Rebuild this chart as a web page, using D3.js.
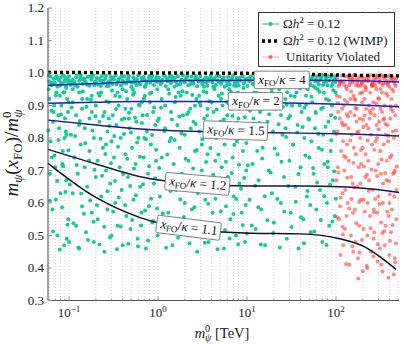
<!DOCTYPE html>
<html lang="en">
<head>
<meta charset="utf-8">
<title>Freeze-out mass ratio</title>
<script src="https://d3js.org/d3.v7.min.js"></script>
<style>
  body { margin: 0; background: #fff; }
  svg, svg text { font-family: "Liberation Serif", "Times New Roman", Times, "DejaVu Serif", serif; }
</style>
</head>
<body>
<script>
// ---- data: [m0 (TeV), m(xFO)/m0] ----
var greenScatter = [
  [0.06,0.92],[0.062,0.79],[0.065,0.58],[0.067,0.88],[0.07,0.71],[0.072,0.94],[0.074,0.5],[0.077,0.83],[0.08,0.63],[0.082,0.9],
  [0.085,0.76],[0.088,0.47],[0.09,0.86],[0.093,0.67],[0.095,0.92],[0.098,0.55],[0.061,0.69],[0.066,0.85],[0.071,0.61],[0.079,0.93],
  [0.084,0.72],[0.089,0.8],[0.094,0.49],[0.097,0.88],[0.064,0.74],[0.059,0.95],[0.068,0.9],[0.076,0.87],[0.086,0.94],[0.092,0.82],[0.099,0.91],
  [0.1,0.48],[0.105,0.81],[0.11,0.91],[0.11,0.63],[0.115,0.74],[0.12,0.87],[0.12,0.53],[0.125,0.69],[0.13,0.94],[0.13,0.46],
  [0.135,0.78],[0.14,0.59],[0.14,0.89],[0.15,0.71],[0.15,0.83],[0.155,0.51],[0.16,0.92],[0.16,0.65],[0.17,0.76],[0.17,0.86],
  [0.18,0.57],[0.18,0.93],[0.19,0.48],[0.19,0.8],[0.2,0.68],[0.2,0.9],[0.21,0.73],[0.21,0.55],[0.22,0.85],[0.23,0.62],
  [0.23,0.94],[0.24,0.77],[0.25,0.45],[0.25,0.88],[0.26,0.7],[0.27,0.82],[0.27,0.58],[0.28,0.91],[0.29,0.66],[0.3,0.79],
  [0.3,0.5],[0.31,0.87],[0.32,0.74],[0.33,0.93],[0.33,0.6],[0.34,0.84],[0.35,0.53],[0.36,0.9],[0.37,0.71],[0.38,0.8],
  [0.39,0.64],[0.4,0.95],[0.4,0.47],[0.42,0.86],[0.43,0.75],[0.44,0.56],[0.45,0.92],[0.46,0.68],[0.48,0.83],[0.49,0.52],
  [0.5,0.89],[0.51,0.77],[0.53,0.61],[0.54,0.94],[0.56,0.72],[0.57,0.85],[0.59,0.49],[0.6,0.8],[0.62,0.9],[0.63,0.65],
  [0.65,0.57],[0.67,0.87],[0.69,0.74],[0.71,0.93],[0.73,0.46],[0.75,0.82],[0.77,0.69],[0.79,0.59],[0.81,0.91],[0.83,0.78],
  [0.86,0.54],[0.88,0.88],[0.9,0.66],[0.93,0.84],[0.95,0.73],[0.98,0.95],[0.99,0.5],
  [0.11,0.95],[0.14,0.92],[0.18,0.88],[0.22,0.93],[0.28,0.86],[0.35,0.94],[0.43,0.89],[0.52,0.95],[0.66,0.91],[0.84,0.94],
  [0.13,0.84],[0.26,0.78],[0.47,0.86],[0.7,0.8],
  [1.02,0.86],[1.05,0.62],[1.1,0.92],[1.1,0.74],[1.15,0.51],[1.2,0.83],[1.25,0.68],[1.3,0.95],[1.3,0.57],[1.35,0.79],
  [1.4,0.88],[1.45,0.47],[1.5,0.72],[1.55,0.91],[1.6,0.64],[1.65,0.84],[1.7,0.55],[1.75,0.77],[1.8,0.93],[1.85,0.69],
  [1.9,0.87],[2.0,0.6],[2.0,0.81],[2.1,0.94],[2.15,0.5],[2.2,0.73],[2.3,0.89],[2.35,0.66],[2.4,0.58],[2.5,0.85],
  [2.6,0.76],[2.7,0.92],[2.75,0.45],[2.8,0.63],[2.9,0.82],[3.0,0.9],[3.1,0.7],[3.2,0.53],[3.3,0.86],[3.4,0.61],
  [3.5,0.94],[3.6,0.75],[3.7,0.48],[3.8,0.83],[3.9,0.67],[4.0,0.91],[4.1,0.57],[4.2,0.88],[4.4,0.73],[4.5,0.8],
  [4.6,0.52],[4.8,0.93],[4.9,0.64],[5.0,0.85],[5.2,0.71],[5.3,0.9],[5.5,0.46],[5.6,0.78],[5.8,0.59],[6.0,0.87],
  [6.1,0.68],[6.3,0.95],[6.5,0.55],[6.7,0.82],[6.9,0.74],[7.1,0.62],[7.3,0.9],[7.5,0.5],[7.7,0.79],[8.0,0.86],
  [8.2,0.66],[8.5,0.93],[8.7,0.57],[9.0,0.76],[9.2,0.84],[9.5,0.48],[9.8,0.7],[9.9,0.92],
  [1.2,0.9],[1.7,0.94],[2.2,0.88],[2.9,0.93],[3.6,0.89],[4.3,0.95],[5.1,0.92],[6.6,0.89],[7.9,0.94],[9.3,0.9],
  [1.4,0.8],[3.1,0.78],[5.7,0.83],[8.4,0.8],
  [10.3,0.83],[10.7,0.61],[11,0.9],[11.5,0.72],[12,0.94],[12.5,0.52],[13,0.8],[13.5,0.67],[14,0.88],[14.5,0.58],
  [15,0.77],[15.5,0.93],[16,0.47],[17,0.85],[17.5,0.7],[18,0.91],[19,0.63],[19.5,0.82],[20,0.54],[21,0.89],
  [22,0.75],[23,0.95],[24,0.6],[25,0.81],[26,0.68],[27,0.92],[28,0.49],[29,0.86],[30,0.73],[31,0.57],
  [32,0.9],[33,0.78],[35,0.65],[36,0.94],[37,0.84],[38,0.46],[40,0.71],[41,0.88],[43,0.55],[44,0.8],
  [46,0.93],[47,0.62],[49,0.86],[50,0.74],[52,0.51],[54,0.91],[56,0.69],[58,0.83],[60,0.58],[62,0.95],
  [64,0.77],[66,0.64],[68,0.89],[70,0.48],[72,0.81],[74,0.72],[77,0.92],[79,0.6],[82,0.85],[84,0.53],
  [87,0.76],[90,0.9],[92,0.67],[95,0.82],[97,0.56],[99,0.94],
  [11.8,0.86],[15,0.89],[19,0.94],[24,0.87],[31,0.93],[39,0.9],[48,0.95],[59,0.88],[73,0.94],[88,0.87],
  [13,0.76],[27,0.83],[53,0.79],[81,0.71]
];

var greenScatter2 = [
  [0.0585,0.823],[0.061,0.607],[0.0635,0.884],[0.066,0.512],[0.0685,0.746],[0.071,0.931],[0.0735,0.668],[0.076,0.794],[0.0785,0.457],[0.081,0.872],
  [0.0835,0.587],[0.086,0.713],[0.0885,0.941],[0.091,0.634],[0.0935,0.809],[0.096,0.533],[0.0985,0.762],
  [0.102,0.657],[0.107,0.894],[0.112,0.538],[0.117,0.806],[0.122,0.717],[0.127,0.463],[0.132,0.852],[0.137,0.629],[0.143,0.943],[0.147,0.567],
  [0.152,0.784],[0.157,0.896],[0.163,0.486],[0.168,0.731],[0.173,0.608],[0.176,0.918],[0.183,0.823],[0.188,0.542],[0.193,0.702],[0.198,0.867],
  [0.206,0.593],[0.214,0.938],[0.219,0.472],[0.226,0.798],[0.235,0.684],[0.241,0.868],[0.248,0.527],[0.256,0.751],[0.263,0.913],[0.271,0.636],
  [0.283,0.837],[0.288,0.494],[0.296,0.722],[0.304,0.946],[0.313,0.574],[0.322,0.806],[0.328,0.668],[0.337,0.889],[0.345,0.458],[0.355,0.773],
  [0.362,0.617],[0.372,0.927],[0.381,0.528],[0.392,0.857],[0.405,0.689],[0.415,0.812],[0.427,0.593],[0.437,0.944],[0.451,0.736],[0.463,0.475],
  [0.472,0.878],[0.486,0.652],[0.497,0.817],[0.512,0.548],[0.524,0.933],[0.537,0.706],[0.552,0.862],[0.565,0.624],[0.581,0.786],[0.596,0.467],
  [0.611,0.903],[0.627,0.742],[0.643,0.531],[0.659,0.846],[0.677,0.658],[0.695,0.921],[0.714,0.577],[0.733,0.796],[0.752,0.871],[0.772,0.485],
  [0.792,0.713],[0.813,0.937],[0.835,0.613],[0.857,0.809],[0.881,0.545],[0.904,0.894],[0.928,0.676],[0.952,0.764],[0.976,0.583],[0.992,0.853],
  [1.03,0.708],[1.08,0.893],[1.13,0.568],[1.18,0.821],[1.23,0.462],[1.27,0.749],[1.33,0.936],[1.38,0.637],[1.43,0.857],[1.48,0.537],
  [1.54,0.794],[1.58,0.926],[1.63,0.683],[1.68,0.493],[1.73,0.866],[1.78,0.611],[1.83,0.814],[1.88,0.944],[1.95,0.557],[2.04,0.736],
  [2.12,0.873],[2.18,0.648],[2.26,0.476],[2.33,0.829],[2.42,0.932],[2.48,0.706],[2.56,0.587],[2.66,0.843],[2.73,0.763],[2.83,0.522],
  [2.94,0.908],[3.04,0.657],[3.15,0.796],[3.25,0.944],[3.36,0.478],[3.46,0.726],[3.57,0.869],[3.66,0.598],[3.77,0.913],[3.87,0.769],
  [3.97,0.538],[4.07,0.842],[4.17,0.687],[4.3,0.957],[4.42,0.613],[4.55,0.888],[4.66,0.458],[4.77,0.749],[4.95,0.821],[5.07,0.574],
  [5.22,0.937],[5.38,0.662],[5.5,0.857],[5.65,0.517],[5.78,0.727],[5.93,0.911],[6.06,0.636],[6.22,0.804],[6.38,0.491],[6.55,0.943],
  [6.73,0.692],[6.86,0.868],[7.02,0.566],[7.2,0.779],[7.38,0.928],[7.56,0.612],[7.78,0.847],[7.95,0.473],[8.12,0.718],[8.33,0.891],
  [8.56,0.644],[8.78,0.811],[8.94,0.532],[9.11,0.954],[9.3,0.677],[9.47,0.864],[9.63,0.594],[9.82,0.785],[9.95,0.506],[1.52,0.976],
  [10.2,0.716],[10.8,0.884],[11.3,0.531],[11.9,0.805],[12.3,0.653],[12.9,0.939],[13.4,0.587],[13.8,0.846],[14.3,0.472],[14.8,0.737],
  [15.4,0.913],[15.8,0.621],[16.4,0.818],[16.9,0.547],[17.7,0.873],[18.4,0.694],[18.9,0.951],[19.7,0.508],[20.4,0.768],[21.2,0.918],
  [21.9,0.612],[22.6,0.842],[23.4,0.463],[24.4,0.727],[25.3,0.896],[26.2,0.574],[27.5,0.803],[28.2,0.941],[29.1,0.652],[30.4,0.868],
  [31.6,0.526],[32.8,0.779],[34.3,0.928],[35.3,0.604],[36.7,0.817],[37.8,0.689],[39.4,0.952],[40.4,0.556],[42.1,0.834],[43.6,0.476],
  [45.2,0.746],[46.2,0.903],[47.8,0.637],[49.6,0.857],[51.3,0.594],[53.1,0.927],[55.2,0.708],[57.1,0.512],[59.3,0.877],[61.4,0.663],
  [63.3,0.812],[65.2,0.942],[67.4,0.548],[69.4,0.764],[71.3,0.893],[73.8,0.621],[76.2,0.835],[78.3,0.471],[80.7,0.727],[83.1,0.916],
  [85.6,0.657],[88.3,0.793],[90.8,0.543],[93.2,0.947],[95.4,0.698],[97.8,0.862],[99.5,0.613],[58.2,0.955],[34.8,0.962],[17.2,0.958],
  [7.6,0.96],[3.3,0.958],[0.71,0.957],[0.28,0.961],[0.093,0.955],[44.1,0.893],[27.9,0.902],[11.6,0.897],[6.2,0.906],[2.6,0.899]
];

var greenBand = [
  [0.06,0.975],[0.062,0.989],[0.064,0.962],[0.067,0.982],[0.069,0.97],[0.072,0.991],[0.074,0.958],[0.077,0.978],[0.08,0.986],[0.083,0.966],
  [0.086,0.993],[0.089,0.974],[0.092,0.96],[0.095,0.984],[0.098,0.97],[0.1,0.99],[0.105,0.963],[0.11,0.98],[0.115,0.972],[0.12,0.987],
  [0.125,0.958],[0.13,0.976],[0.136,0.992],[0.142,0.967],[0.148,0.983],[0.155,0.97],[0.162,0.988],[0.17,0.961],[0.178,0.979],[0.186,0.993],
  [0.195,0.973],[0.204,0.985],[0.213,0.964],[0.223,0.977],[0.233,0.99],[0.244,0.969],[0.255,0.982],[0.267,0.959],[0.279,0.975],[0.292,0.988],
  [0.305,0.966],[0.319,0.98],[0.334,0.992],[0.35,0.971],[0.366,0.984],[0.383,0.962],[0.4,0.978],[0.42,0.99],[0.44,0.968],[0.46,0.983],
  [0.48,0.974],[0.5,0.958],[0.53,0.987],[0.55,0.97],[0.58,0.981],[0.6,0.993],[0.63,0.965],[0.66,0.977],[0.69,0.988],[0.72,0.96],
  [0.75,0.975],[0.79,0.985],[0.82,0.97],[0.86,0.991],[0.9,0.963],[0.94,0.98],[0.98,0.972],
  [1.02,0.986],[1.07,0.966],[1.12,0.979],[1.17,0.992],[1.22,0.96],[1.28,0.975],[1.34,0.988],[1.4,0.969],[1.46,0.982],[1.53,0.958],
  [1.6,0.973],[1.67,0.99],[1.75,0.965],[1.83,0.98],[1.91,0.993],[2.0,0.971],[2.09,0.985],[2.19,0.962],[2.29,0.977],[2.39,0.989],
  [2.5,0.968],[2.62,0.983],[2.74,0.959],[2.86,0.974],[3.0,0.991],[3.13,0.966],[3.27,0.979],[3.42,0.987],[3.58,0.961],[3.74,0.976],
  [3.91,0.992],[4.09,0.97],[4.28,0.984],[4.47,0.963],[4.68,0.978],[4.9,0.99],[5.12,0.967],[5.35,0.981],[5.6,0.958],[5.86,0.974],
  [6.12,0.988],[6.4,0.965],[6.7,0.979],[7.0,0.993],[7.3,0.971],[7.65,0.985],[8.0,0.962],[8.4,0.976],[8.8,0.989],[9.2,0.968],[9.6,0.982],
  [10.1,0.96],[10.6,0.975],[11.1,0.99],[11.6,0.967],[12.1,0.983],[12.7,0.958],[13.3,0.973],[13.9,0.988],[14.5,0.964],[15.2,0.979],
  [15.9,0.992],[16.6,0.97],[17.4,0.984],[18.2,0.961],[19,0.977],[19.9,0.989],[20.8,0.966],[21.8,0.981],[22.8,0.958],[23.8,0.974],
  [24.9,0.99],[26,0.963],[27.2,0.978],[28.5,0.987],[29.8,0.969],[31.2,0.982],[32.6,0.96],[34.1,0.975],[35.7,0.991],[37.3,0.966],
  [39,0.98],[40.8,0.972],[42.7,0.986],[44.7,0.961],[46.7,0.977],[48.9,0.992],[51.1,0.968],[53.5,0.983],[56,0.959],[58.5,0.974],
  [61.2,0.989],[64,0.965],[67,0.979],[70,0.993],[73.3,0.97],[76.7,0.984],[80.2,0.962],[83.9,0.977],[87.8,0.988],[91.8,0.967],[96,0.981],[99,0.972],
  [0.063,0.97],[0.071,0.984],[0.079,0.961],[0.088,0.989],[0.097,0.979],[0.108,0.969],[0.122,0.993],[0.139,0.981],[0.159,0.964],[0.18,0.986],
  [0.2,0.975],[0.228,0.96],[0.26,0.992],[0.297,0.978],[0.34,0.965],[0.39,0.989],[0.45,0.979],[0.51,0.97],[0.57,0.963],[0.65,0.984],
  [0.74,0.968],[0.84,0.98],[0.96,0.988],[1.1,0.97],[1.25,0.983],[1.43,0.99],[1.63,0.963],[1.87,0.977],[2.14,0.99],[2.45,0.975],
  [2.8,0.983],[3.2,0.969],[3.65,0.984],[4.18,0.958],[4.8,0.972],[5.48,0.987],[6.25,0.975],[7.15,0.961],[8.2,0.985],[9.4,0.975],
  [10.9,0.979],[12.4,0.97],[14.2,0.98],[16.2,0.962],[18.6,0.986],[21.3,0.973],[24.3,0.982],[27.8,0.963],[31.8,0.988],[36.4,0.978],
  [41.7,0.966],[47.7,0.98],[54.6,0.99],[62.5,0.974],[71.5,0.963],[81.8,0.99],[93.6,0.976],
  [0.0595,0.992],[0.0655,0.967],[0.0735,0.986],[0.0815,0.97],[0.0905,0.981],[0.103,0.975],[0.117,0.961],[0.133,0.985],[0.151,0.976],[0.172,0.99],
  [0.192,0.962],[0.216,0.983],[0.241,0.976],[0.272,0.966],[0.312,0.986],[0.356,0.977],[0.41,0.969],[0.47,0.991],[0.54,0.977],[0.615,0.969],
  [0.7,0.98],[0.8,0.991],[0.91,0.976],[1.05,0.976],[1.2,0.991],[1.37,0.977],[1.56,0.986],[1.79,0.97],[2.04,0.982],[2.33,0.966],
  [2.67,0.991],[3.05,0.977],[3.48,0.97],[3.98,0.982],[4.55,0.991],[5.2,0.975],[5.95,0.963],[6.8,0.986],[7.8,0.97],[8.95,0.991],
  [10.4,0.984],[11.9,0.964],[13.6,0.992],[15.6,0.975],[17.8,0.967],[20.3,0.983],[23.2,0.991],[26.6,0.971],[30.4,0.962],[34.8,0.984],
  [39.8,0.99],[45.5,0.973],[52,0.962],[59.5,0.98],[68,0.986],[77.8,0.975],[89,0.96],[97.5,0.99]
];

var redPoints = [
  [102,0.93],[105,0.71],[108,0.55],[110,0.86],[112,0.44],[115,0.97],[118,0.63],[120,0.79],[123,0.9],[126,0.52],
  [129,0.74],[132,0.95],[135,0.6],[138,0.83],[141,0.41],[145,0.88],[148,0.68],[151,0.99],[155,0.57],[159,0.77],
  [162,0.92],[166,0.48],[170,0.85],[174,0.65],[178,0.96],[182,0.53],[187,0.8],[191,0.72],[196,0.91],[200,0.39],
  [205,0.61],[210,0.87],[215,0.75],[220,0.98],[225,0.5],[231,0.83],[236,0.67],[242,0.94],[248,0.45],[254,0.78],
  [260,0.89],[266,0.58],[272,0.97],[279,0.7],[285,0.84],[292,0.42],[299,0.62],[306,0.92],[314,0.76],[321,0.54],
  [329,0.88],[337,0.66],[345,0.99],[353,0.47],[361,0.81],[370,0.73],[379,0.93],[388,0.37],[397,0.6],[407,0.86],
  [416,0.51],[426,0.95],[437,0.69],[447,0.8],[458,0.43],[469,0.9],[478,0.64],
  [101,0.67],[104,0.82],[107,0.96],[111,0.59],[114,0.76],[117,0.89],[121,0.47],[124,0.7],[128,0.84],[131,0.56],
  [134,0.91],[139,0.73],[143,0.98],[147,0.5],[150,0.81],[154,0.66],[158,0.93],[163,0.58],[167,0.75],[171,0.89],
  [176,0.43],[180,0.71],[185,0.86],[190,0.61],[194,0.97],[199,0.77],[204,0.52],[209,0.92],[214,0.68],[219,0.84],
  [224,0.4],[230,0.73],[235,0.9],[241,0.56],[247,0.81],[253,0.96],[259,0.64],[265,0.49],[271,0.87],[278,0.79],
  [284,0.95],[291,0.57],[298,0.72],[305,0.85],[312,0.46],[320,0.69],[328,0.94],[336,0.6],[344,0.78],[352,0.9],
  [360,0.53],[369,0.67],[378,0.84],[387,0.97],[396,0.44],[405,0.74],[415,0.89],[425,0.58],[435,0.82],[446,0.38],
  [457,0.7],[467,0.96],[476,0.55],
  [103,0.985],[109,0.965],[116,0.992],[122,0.975],[130,0.958],[137,0.988],[144,0.97],[152,0.982],[160,0.995],[168,0.962],
  [177,0.978],[186,0.99],[195,0.968],[206,0.985],[217,0.955],[228,0.975],[240,0.993],[252,0.966],[264,0.98],[277,0.96],
  [290,0.988],[303,0.972],[318,0.995],[333,0.963],[348,0.982],[364,0.97],[381,0.99],[398,0.958],[416,0.978],[436,0.987],
  [455,0.966],[474,0.983],[113,0.975],[126,0.99],[141,0.962],[157,0.978],[173,0.97],[191,0.985],[211,0.96],[234,0.98],
  [258,0.972],[284,0.993],[312,0.98],[341,0.968],[373,0.977],[407,0.992],[445,0.974],
  [106,0.88],[119,0.84],[133,0.78],[146,0.92],[161,0.87],[179,0.82],[197,0.94],[218,0.89],[238,0.86],[262,0.91],
  [288,0.8],[316,0.89],[348,0.86],[383,0.79],[421,0.92],[463,0.87],[127,0.64],[156,0.45],[188,0.66],[226,0.6],
  [269,0.51],[323,0.41],[390,0.56],[452,0.62],
  [100.5,0.812],[103.5,0.556],[106.5,0.694],[109.5,0.927],[112.5,0.617],[116.5,0.848],[119.5,0.503],[122.5,0.745],[125.5,0.917],[129.5,0.412],
  [133.5,0.678],[136.5,0.866],[140.5,0.583],[144.5,0.792],[148.5,0.943],[152.5,0.467],[156.5,0.724],[160.5,0.648],[164.5,0.892],[168.5,0.538],
  [172.5,0.817],[177.5,0.368],[181.5,0.603],[186.5,0.938],[191.5,0.763],[195.5,0.486],[201,0.856],[206,0.712],[211,0.574],[216,0.948],
  [221,0.407],[227,0.792],[233,0.638],[239,0.884],[245,0.522],[251,0.703],[257,0.963],[263,0.436],[269,0.764],[275,0.612],
  [282,0.907],[289,0.683],[295,0.473],[302,0.827],[309,0.597],[317,0.951],[325,0.734],[332,0.389],[340,0.856],[349,0.513],
  [357,0.692],[366,0.938],[375,0.573],[385,0.807],[394,0.667],[403,0.484],[412,0.898],[422,0.747],[432,0.532],[442,0.943],
  [452,0.694],[462,0.418],[472,0.823],[480,0.712],[110,0.972],[124,0.964],[139,0.991],[154,0.97],[171,0.984],[189,0.961],
  [209,0.976],[231,0.99],[255,0.962],[281,0.982],[310,0.971],[343,0.989],[378,0.964],[418,0.983],[460,0.978],[105,0.908],
  [132,0.873],[165,0.917],[203,0.834],[246,0.876],[298,0.922],[357,0.843],[433,0.882],[118,0.527],[149,0.612],[184,0.448],
  [222,0.687],[267,0.571],[331,0.508],[402,0.627],[471,0.476]
];

var wimpLine = [[0.058,1.002],[1,1.0],[10,0.999],[100,0.994],[510,0.991]];

var curveK4  = [[0.058,0.962],[0.2,0.968],[0.63,0.974],[3,0.977],[11,0.978],[40,0.978],[110,0.977],[250,0.975],[510,0.972]];
var curveK2  = [[0.058,0.907],[0.2,0.91],[0.63,0.912],[3,0.912],[11,0.91],[40,0.907],[110,0.904],[250,0.9],[510,0.896]];
var curveK15 = [[0.058,0.855],[0.2,0.84],[0.63,0.828],[3,0.82],[11,0.817],[40,0.815],[110,0.813],[250,0.81],[510,0.806]];
var curveK12 = [[0.058,0.765],[0.2,0.72],[0.63,0.681],[2.3,0.66],[11,0.652],[40,0.652],[110,0.65],[250,0.643],[510,0.632]];
var curveK11 = [[0.058,0.722],[0.2,0.617],[0.63,0.555],[2.3,0.52],[11,0.507],[40,0.505],[110,0.49],[210,0.465],[310,0.435],[470,0.396]];

var kappaLabels = ["4", "2", "1.5", "1.2", "1.1"];
var yTicks = [0.3, 0.4, 0.5, 0.6, 0.7, 0.8, 0.9, 1.0, 1.1, 1.2];
var xDecades = [-1, 0, 1, 2];

// ---- chart ----
var width = 404, height = 344;
var svg = d3.select("body").append("svg")
  .attr("width", width)
  .attr("height", height)
  .style("display", "block");

var x = d3.scaleLog().domain([0.058, 510]).range([48, 399]);
var y = d3.scaleLinear().domain([0.3, 1.2]).range([300.5, 8]);

// vertical dotted grid at every major / minor tick
var gridVals = [];
[-2, -1, 0, 1, 2].forEach(function(e) {
  for (var k = 1; k < 10; k++) {
    var v = k * Math.pow(10, e);
    if (v >= 0.058 && v <= 510) gridVals.push(v);
  }
});
svg.append("g").selectAll("line")
  .data(gridVals)
  .enter().append("line")
  .attr("x1", d => x(d)).attr("x2", d => x(d))
  .attr("y1", y(1.2)).attr("y2", y(0.3))
  .attr("stroke", "#c4c4c4")
  .attr("stroke-width", 0.8)
  .attr("stroke-dasharray", "1,2");

// scatter
var green = "#16ca98";
var pts = svg.append("g");
pts.selectAll("circle.g")
  .data(greenScatter.concat(greenScatter2, greenBand))
  .enter().append("circle")
  .attr("class", "g")
  .attr("cx", d => x(d[0])).attr("cy", d => y(d[1]))
  .attr("r", 2)
  .attr("fill", green);
pts.selectAll("circle.r")
  .data(redPoints)
  .enter().append("circle")
  .attr("class", "r")
  .attr("cx", d => x(d[0])).attr("cy", d => y(d[1]))
  .attr("r", 2)
  .attr("fill", "#ff2a2a")
  .attr("fill-opacity", 0.55);

var line = d3.line()
  .x(d => x(d[0])).y(d => y(d[1]))
  .curve(d3.curveMonotoneX);

// WIMP line
svg.append("path")
  .attr("d", line(wimpLine))
  .attr("fill", "none")
  .attr("stroke", "#000")
  .attr("stroke-width", 3.4)
  .attr("stroke-dasharray", "3,3");

// contour curves
var curves = [curveK4, curveK2, curveK15, curveK12, curveK11];
var curveColors = ["#1a1ad6", "#1c1cc0", "#1c1c88", "#15154f", "#0d0d22"];
curves.forEach(function(c, i) {
  svg.append("path")
    .attr("d", line(c))
    .attr("fill", "none")
    .attr("stroke", curveColors[i])
    .attr("stroke-width", 1.5);
});

// contour labels (centre in data coords, tilt in degrees)
var labelPlace = [[24.7, 0.978, 0], [12.6, 0.912, 0], [7.5, 0.822, 2], [2.8, 0.658, 5], [2.23, 0.523, 7]];
kappaLabels.forEach(function(k, i) {
  var p = labelPlace[i];
  var g = svg.append("g")
    .attr("transform", "translate(" + x(p[0]) + "," + y(p[1]) + ") rotate(" + p[2] + ")");
  var t = g.append("text")
    .attr("text-anchor", "middle")
    .attr("y", 3.5)
    .attr("font-size", 13)
    .attr("fill", "#111");
  t.append("tspan").attr("font-style", "italic").text("x");
  t.append("tspan").attr("font-size", 9).attr("dy", 2.5).text("FO");
  t.append("tspan").attr("dy", -2.5).text("/");
  t.append("tspan").attr("font-style", "italic").text("κ");
  t.append("tspan").text(" = " + k);
  var bb = t.node().getBBox();
  g.insert("rect", "text")
    .attr("x", bb.x - 3).attr("y", bb.y - 0.5)
    .attr("width", bb.width + 6).attr("height", bb.height + 1)
    .attr("rx", 1.5)
    .attr("fill", "#fff")
    .attr("stroke", "#777")
    .attr("stroke-width", 0.9);
});

// axes
var axisCol = "#555";
svg.append("line").attr("x1", 48).attr("x2", 48).attr("y1", y(1.2)).attr("y2", y(0.3))
  .attr("stroke", axisCol).attr("stroke-width", 1.1);
svg.append("line").attr("x1", 48).attr("x2", 399).attr("y1", y(0.3)).attr("y2", y(0.3))
  .attr("stroke", axisCol).attr("stroke-width", 1.1);

svg.append("g").selectAll("line")
  .data(yTicks)
  .enter().append("line")
  .attr("x1", 48).attr("x2", 52)
  .attr("y1", d => y(d)).attr("y2", d => y(d))
  .attr("stroke", "#999");
svg.append("g").selectAll("text")
  .data(yTicks)
  .enter().append("text")
  .attr("x", 44).attr("y", d => y(d) + 4)
  .attr("text-anchor", "end")
  .attr("font-size", 13)
  .attr("fill", "#222")
  .text(d => d.toFixed(1));

svg.append("g").selectAll("line")
  .data(gridVals)
  .enter().append("line")
  .attr("x1", d => x(d)).attr("x2", d => x(d))
  .attr("y1", y(0.3)).attr("y2", d => Math.abs(Math.log10(d) - Math.round(Math.log10(d))) < 1e-9 ? y(0.3) - 4 : y(0.3) - 2)
  .attr("stroke", "#999");

var xl = svg.append("g").selectAll("text")
  .data(xDecades)
  .enter().append("text")
  .attr("x", d => x(Math.pow(10, d)))
  .attr("y", 317)
  .attr("text-anchor", "middle")
  .attr("font-size", 13)
  .attr("fill", "#222");
xl.append("tspan").text("10");
xl.append("tspan").attr("font-size", 9).attr("dy", -5).text(d => d < 0 ? "−" + (-d) : d);

// x label
var xt = svg.append("text")
  .attr("x", 222).attr("y", 338)
  .attr("text-anchor", "middle")
  .attr("font-size", 14.5)
  .attr("fill", "#222");
xt.append("tspan").attr("font-style", "italic").text("m");
xt.append("tspan").attr("font-size", 10).attr("dy", -6).text("0");
xt.append("tspan").attr("font-size", 10).attr("font-style", "italic").attr("dx", -5).attr("dy", 9).text("ψ");
xt.append("tspan").attr("dy", -3).text(" [TeV]");

// y label
var yt = svg.append("text")
  .attr("transform", "translate(18,153) rotate(-90)")
  .attr("text-anchor", "middle")
  .attr("font-size", 19)
  .attr("fill", "#222");
yt.append("tspan").attr("font-style", "italic").text("m");
yt.append("tspan").attr("font-size", 13).attr("font-style", "italic").attr("dy", 4).text("ψ");
yt.append("tspan").attr("dy", -4).text("(");
yt.append("tspan").attr("font-style", "italic").text("x");
yt.append("tspan").attr("font-size", 13).attr("dy", 4).text("FO");
yt.append("tspan").attr("dy", -4).text(")/");
yt.append("tspan").attr("font-style", "italic").text("m");
yt.append("tspan").attr("font-size", 13).attr("dy", -7).text("0");
yt.append("tspan").attr("font-size", 13).attr("font-style", "italic").attr("dx", -6).attr("dy", 11).text("ψ");

// legend
var lg = svg.append("g");
lg.append("rect")
  .attr("x", 258.5).attr("y", 12.5).attr("width", 136).attr("height", 54)
  .attr("fill", "#fff").attr("stroke", "#333").attr("stroke-width", 1);
var legendRows = [24, 41, 57];
lg.append("line").attr("x1", 262).attr("x2", 279).attr("y1", legendRows[0]).attr("y2", legendRows[0])
  .attr("stroke", green).attr("stroke-width", 1);
lg.append("circle").attr("cx", 270.5).attr("cy", legendRows[0]).attr("r", 2).attr("fill", green);
lg.append("line").attr("x1", 262).attr("x2", 279).attr("y1", legendRows[1]).attr("y2", legendRows[1])
  .attr("stroke", "#000").attr("stroke-width", 3.4).attr("stroke-dasharray", "3,3");
lg.append("line").attr("x1", 262).attr("x2", 279).attr("y1", legendRows[2]).attr("y2", legendRows[2])
  .attr("stroke", "#ff2a2a").attr("stroke-opacity", 0.4).attr("stroke-width", 1);
lg.append("circle").attr("cx", 270.5).attr("cy", legendRows[2]).attr("r", 2).attr("fill", "#ff2a2a").attr("fill-opacity", 0.7);

function omegaText(sel, suffix) {
  sel.append("tspan").text("Ω");
  sel.append("tspan").attr("font-style", "italic").text("h");
  sel.append("tspan").attr("font-size", 9).attr("dy", -5).text("2");
  sel.append("tspan").attr("dy", 5).text(" = 0.12" + suffix);
}
var t1 = lg.append("text").attr("x", 283).attr("y", legendRows[0] + 4).attr("font-size", 13).attr("fill", "#222");
omegaText(t1, "");
var t2 = lg.append("text").attr("x", 283).attr("y", legendRows[1] + 4).attr("font-size", 13).attr("fill", "#222");
omegaText(t2, " (WIMP)");
lg.append("text").attr("x", 286).attr("y", legendRows[2] + 4).attr("font-size", 13).attr("fill", "#222")
  .text("Unitarity Violated");
</script>
</body>
</html>
